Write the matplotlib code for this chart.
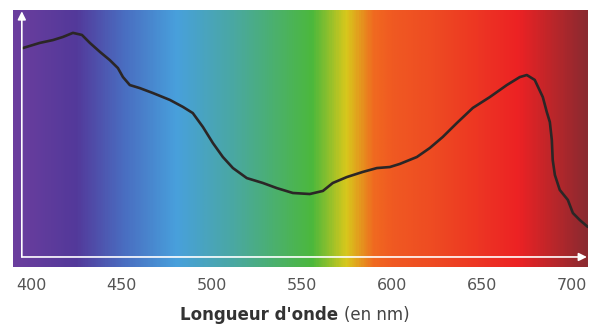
import matplotlib
matplotlib.use('Agg')
import matplotlib.pyplot as plt
import numpy as np
from matplotlib.colors import LinearSegmentedColormap

# wavelength (nm) and relative absorbance
wavelength = [395.0, 404.4, 411.7, 417.2, 422.8, 427.8, 432.2, 437.8, 443.3,
              447.8, 450.6, 454.4, 460.0, 467.2, 476.7, 483.9, 489.4, 495.0,
              500.6, 506.1, 511.7, 519.4, 528.3, 536.1, 545.0, 554.4, 561.7,
              567.2, 575.0, 583.9, 591.7, 598.9, 604.4, 613.9, 621.1, 628.3,
              636.1, 645.0, 654.4, 663.9, 671.1, 675.0, 679.4, 683.9, 686.1,
              687.8, 688.9, 689.4, 690.6, 693.3, 697.8, 700.6, 704.4, 708.9]
absorbance = [0.852, 0.872, 0.883, 0.895, 0.911, 0.903, 0.872, 0.837, 0.805,
              0.774, 0.739, 0.708, 0.696, 0.677, 0.650, 0.623, 0.599, 0.545,
              0.482, 0.428, 0.385, 0.346, 0.327, 0.307, 0.288, 0.284, 0.296,
              0.327, 0.350, 0.370, 0.385, 0.389, 0.401, 0.428, 0.463, 0.506,
              0.560, 0.619, 0.661, 0.708, 0.739, 0.747, 0.728, 0.661, 0.603,
              0.564, 0.494, 0.416, 0.358, 0.300, 0.261, 0.210, 0.183, 0.156]

ticks = [400, 450, 500, 550, 600, 650, 700]
x_min, x_max = 389.5, 709.0

# spectrum colours (nm, colour)
spectrum_nm = [389.5, 424, 450, 480, 512, 556, 575, 590, 600, 625, 671, 709.0]
spectrum_col = ['#6b3e9e', '#53399a', '#4a6cc0', '#48a0dc', '#4aa8a2',
                '#4cb83c', '#d8c81c', '#f06a20', '#f05a22', '#ee4a22',
                '#ec2224', '#8b2a30']

fig = plt.figure(figsize=(6, 3.29), dpi=100)
ax = fig.add_axes([13 / 600, (329 - 267) / 329, 575 / 600, 257 / 329])

stops = [(n - x_min) / (x_max - x_min) for n in spectrum_nm]
cmap = LinearSegmentedColormap.from_list('spec', list(zip(stops, spectrum_col)))
grad = np.linspace(0, 1, 600).reshape(1, -1)
ax.imshow(grad, cmap=cmap, aspect='auto', extent=[x_min, x_max, 0, 1],
          interpolation='bilinear', zorder=0)

ax.plot(wavelength, absorbance, color='#2b2626', lw=1.9,
        solid_joinstyle='round', solid_capstyle='round', zorder=3)

# white axis arrows
ax.annotate('', xy=(708.4, 0.039), xytext=(394.4, 0.039),
            arrowprops=dict(arrowstyle='-|>', color='white', lw=1.2,
                            mutation_scale=12, shrinkA=0, shrinkB=0), zorder=4)
ax.annotate('', xy=(394.4, 0.995), xytext=(394.4, 0.039),
            arrowprops=dict(arrowstyle='-|>', color='white', lw=1.2,
                            mutation_scale=12, shrinkA=0, shrinkB=0), zorder=4)

ax.set_xlim(x_min, x_max)
ax.set_ylim(0, 1)
ax.set_xticks(ticks)
ax.set_xticklabels([str(t) for t in ticks])
ax.set_yticks([])
ax.tick_params(axis='x', length=0, pad=8, labelsize=11.5, labelcolor='#555555')
for s in ax.spines.values():
    s.set_visible(False)

fig.text(344 / 600, 0.027, "Longueur d'onde ", ha='right', va='baseline',
         fontsize=12, fontweight='bold', color='#333333')
fig.text(344 / 600, 0.027, "(en nm)", ha='left', va='baseline',
         fontsize=12, color='#444444')

fig.savefig('out.png', dpi=100)
